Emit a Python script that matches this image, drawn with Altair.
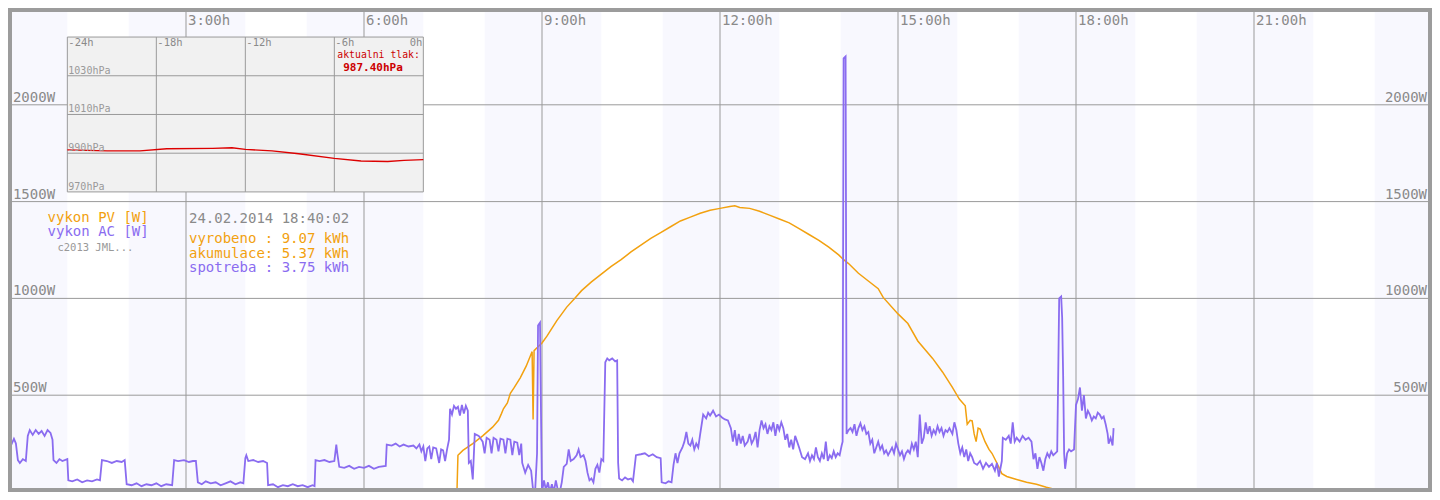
import altair as alt
import pandas as pd

# vykon AC [W] - cas v minutach od pulnoci
ac_time = [0, 3, 6, 8, 10, 12, 15, 18, 20, 22,
           25, 28, 31, 34, 37, 40, 43, 45, 46, 49,
           52, 55, 60, 61, 65, 70, 75, 80, 85, 90,
           93, 95, 100, 105, 110, 115, 118, 120, 125, 130,
           135, 140, 145, 150, 155, 160, 166, 168, 172, 178,
           183, 187, 190, 192, 196, 200, 205, 210, 215, 220,
           225, 230, 235, 238, 240, 241, 243, 248, 253, 258,
           262, 263, 268, 273, 278, 283, 288, 293, 298, 303,
           308, 310, 311, 315, 320, 325, 330, 332, 333, 335,
           340, 345, 350, 355, 360, 365, 370, 375, 382, 383,
           388, 392, 396, 400, 405, 410, 413, 416, 418, 420,
           422, 424, 426, 428, 430, 433, 436, 438, 440, 442,
           444, 446, 447, 449, 451, 453, 455, 457, 459, 461,
           463, 465, 466, 468, 470, 472, 476, 480, 482, 484,
           487, 489, 491, 494, 496, 498, 501, 503, 505, 508,
           510, 512, 515, 517, 519, 520, 523, 526, 529, 531,
           533, 535, 536, 538, 539, 540, 542, 544, 546, 548,
           550, 552, 554, 556, 558, 560, 562, 565, 567, 569,
           572, 575, 577, 579, 582, 584, 586, 588, 590, 592,
           594, 596, 598, 600, 602, 604, 606, 608, 611, 614,
           616, 617, 618, 621, 624, 627, 630, 632, 635, 640,
           644, 648, 652, 656, 660, 661, 665, 668, 671, 673,
           675, 677, 679, 682, 684, 686, 688, 690, 692, 694,
           696, 698, 700, 703, 706, 708, 710, 713, 716, 719,
           722, 725, 728, 731, 733, 735, 737, 739, 741, 743,
           745, 748, 750, 752, 754, 756, 758, 760, 762, 764,
           766, 768, 770, 772, 774, 776, 778, 780, 782, 784,
           786, 788, 790, 792, 794, 796, 798, 800, 803, 806,
           809, 811, 813, 815, 817, 819, 821, 823, 825, 827,
           829, 831, 833, 835, 837, 839, 841, 843, 844, 845,
           847, 848, 850, 852, 854, 856, 858, 860, 862, 864,
           866, 868, 870, 872, 874, 876, 878, 880, 882, 884,
           886, 888, 890, 892, 894, 896, 898, 900, 902, 904,
           906, 908, 910, 912, 914, 916, 918, 920, 922, 924,
           926, 928, 930, 932, 934, 936, 938, 940, 942, 944,
           946, 948, 950, 952, 955, 957, 959, 961, 963, 965,
           967, 969, 971, 973, 975, 977, 980, 983, 986, 989,
           992, 995, 998, 1000, 1002, 1005, 1006, 1009, 1012, 1014,
           1016, 1018, 1020, 1023, 1026, 1029, 1032, 1035, 1037, 1039,
           1041, 1043, 1045, 1047, 1049, 1051, 1053, 1055, 1057, 1059,
           1061, 1063, 1065, 1066, 1067, 1068, 1069, 1071, 1073, 1075,
           1078, 1080, 1082, 1084, 1086, 1088, 1090, 1092, 1094, 1096,
           1098, 1100, 1102, 1104, 1106, 1108, 1110, 1112, 1113, 1115,
           1117, 1118]
ac_watts = [260, 240, 275, 250, 165, 150, 170, 160, 290, 320,
            295, 320, 300, 315, 290, 320, 305, 270, 165, 150,
            170, 160, 170, 60, 55, 65, 50, 60, 55, 65,
            60, 165, 160, 150, 160, 155, 165, 40, 35, 45,
            30, 40, 35, 45, 30, 40, 35, 165, 160, 165,
            155, 160, 160, 50, 40, 55, 45, 50, 35, 45,
            55, 40, 50, 45, 175, 190, 160, 165, 155, 160,
            150, 35, 40, 25, 35, 30, 40, 30, 35, 25,
            35, 30, 165, 160, 165, 155, 160, 245, 200, 130,
            125, 135, 120, 130, 125, 135, 120, 130, 135, 245,
            240, 250, 235, 245, 235, 240, 225, 245, 210, 235,
            160, 225, 235, 170, 230, 225, 150, 220, 215, 160,
            220, 270, 430, 400, 445, 430, 440, 395, 450, 405,
            445, 420, 150, 160, 65, 300, 290, 260, 200, 280,
            270, 200, 280, 270, 210, 275, 270, 200, 275, 270,
            190, 260, 255, 190, 250, 150, 100, 140, 110, 10,
            0, 200, 860, 875, 400, 0, 60, 10, 50, 0,
            40, 0, 60, 10, 0, 50, 130, 145, 220, 160,
            170, 190, 220, 180, 190, 160, 100, 60, 70, 50,
            120, 140, 100, 170, 160, 670, 690, 680, 690, 675,
            680, 150, 70, 60, 75, 65, 70, 55, 190, 195,
            200, 185, 195, 180, 175, 50, 45, 55, 50, 140,
            200, 150, 200, 230, 260, 310, 250, 240, 270, 220,
            250, 230, 300, 400, 380, 410, 395, 420, 390, 400,
            385, 375, 370, 330, 260, 320, 240, 300, 250, 290,
            240, 260, 300, 250, 270, 310, 230, 320, 370, 330,
            350, 300, 340, 320, 360, 290, 350, 320, 360, 330,
            270, 300, 230, 270, 220, 290, 260, 230, 180, 170,
            200, 160, 190, 170, 230, 180, 160, 200, 170, 260,
            160, 190, 175, 210, 180, 200, 190, 240, 260, 2240,
            2250, 300, 320, 330, 310, 350, 290, 330, 355, 320,
            340, 300, 310, 250, 270, 200, 230, 260, 220, 240,
            200, 215, 190, 210, 230, 200, 250, 220, 190, 210,
            170, 200, 215, 200, 250, 220, 260, 180, 400, 250,
            280, 360, 300, 340, 290, 320, 300, 340, 310, 330,
            290, 320, 310, 330, 300, 360, 320, 250, 200, 230,
            180, 220, 160, 200, 180, 150, 140, 160, 120, 150,
            130, 145, 110, 150, 80, 160, 280, 270, 290, 250,
            360, 260, 280, 260, 290, 270, 280, 260, 170, 200,
            120, 180, 150, 110, 170, 200, 180, 210, 190, 200,
            210, 1000, 1010, 900, 600, 200, 120, 200, 220, 210,
            220, 450, 480, 540, 420, 500, 380, 420, 400, 370,
            390, 380, 410, 400, 380, 390, 350, 300, 250, 280,
            240, 330]

# vykon PV [W]
pv_time = [400, 405, 407, 411, 413, 454, 455, 460, 470, 480,
           490, 496, 499, 501, 505, 508, 512, 518, 524, 528,
           530, 531, 532, 536, 540, 545, 550, 555, 560, 565,
           573, 580, 590, 600, 610, 620, 630, 640, 650, 660,
           670, 680, 690, 700, 710, 720, 730, 735, 740, 750,
           760, 770, 780, 790, 800, 810, 820, 830, 840, 845,
           850, 860, 870, 880, 885, 900, 910, 920, 935, 945,
           955, 962, 968, 970, 973, 975, 977, 979, 981, 983,
           988, 992, 995, 1000, 1005, 1010, 1020, 1030, 1040, 1050,
           1060, 1068, 1070]
pv_watts = [0, 15, 0, 15, 0, 0, 190, 215, 250, 290,
            335, 370, 405, 430, 460, 510, 540, 590, 650, 700,
            725, 375, 730, 750, 770, 805, 845, 885, 920, 955,
            1000, 1040, 1085, 1125, 1165, 1200, 1240, 1275, 1310, 1340,
            1370, 1400, 1420, 1440, 1455, 1465, 1475, 1478, 1470, 1465,
            1450, 1430, 1410, 1390, 1360, 1330, 1300, 1265, 1225, 1200,
            1180, 1130, 1090, 1050, 1005, 920, 870, 780, 690, 620,
            540, 480, 445, 350, 370, 367, 300, 260, 330, 325,
            260, 220, 200, 150, 95, 80, 65, 50, 40, 25,
            12, 3, 0]

# tlak za poslednich 24 h
tlak_hod = [-24, -21.3, -19.1, -17.3, -14.2, -12.9, -12, -10.2, -8.4, -6, -4.2, -2.4, -1.3, 0]
tlak_hpa = [991.7, 991.2, 991.2, 992.3, 992.5, 992.8, 992.0, 991.2, 989.7, 987.3, 986.0, 985.7, 986.3, 986.7]

hour_ticks = [180, 360, 540, 720, 900, 1080, 1260]
hour_labels = ['3:00h', '6:00h', '9:00h', '12:00h', '15:00h', '18:00h', '21:00h']
watt_ticks = [500, 1000, 1500, 2000]
watt_labels = ['500W', '1000W', '1500W', '2000W']
band_start = [0, 122, 302, 482, 662, 842, 1022, 1202, 1382]
band_end = [60, 240, 420, 600, 780, 960, 1140, 1320, 1440]

tlak_hod_ticks = [-24, -18, -12, -6]
tlak_hod_labels = ['-24h', '-18h', '-12h', '-6h']
tlak_ticks = [970, 990, 1010, 1030]
tlak_labels = ['970hPa', '990hPa', '1010hPa', '1030hPa']

datum_cas = '24.02.2014 18:40:02'
souhrn = ['vyrobeno : 9.07 kWh', 'akumulace: 5.37 kWh', 'spotreba : 3.75 kWh']
aktualni_tlak = '987.40hPa'

W, H = 1424, 484
SX, SY = W / 1440, H / 500
MONO = 'DejaVu Sans Mono'
GRAY = '#8a8a8a'
GRID = '#9a9a9a'
ORANGE = '#f2a10f'
PURPLE = '#8a6cf0'
LAVENDER = '#f8f8fe'

xs = alt.Scale(domain=[0, 1440], nice=False, zero=False)
ys = alt.Scale(domain=[0, 2500], nice=False)


def text_at(txt, x, y, color, size=14, weight='normal', align='left'):
    return alt.Chart(pd.DataFrame({'t': [txt]})).mark_text(
        font=MONO, fontSize=size, fontWeight=weight, color=color,
        align=align, baseline='alphabetic'
    ).encode(x=alt.value(x * SX), y=alt.value(y * SY), text='t:N')


bands = alt.Chart(pd.DataFrame({'a': band_start, 'b': band_end})).mark_rect(color=LAVENDER).encode(
    x=alt.X('a:Q', scale=xs, axis=None), x2='b:Q',
    y=alt.value(0), y2=alt.value(H)
)

vgrid = alt.Chart(pd.DataFrame({'m': hour_ticks, 'l': hour_labels}))
vrules = vgrid.mark_rule(color=GRID, strokeWidth=1).encode(
    x=alt.X('m:Q', scale=xs, axis=None), y=alt.value(0), y2=alt.value(H)
)
vtext = vgrid.mark_text(font=MONO, fontSize=14, color=GRAY, align='left',
                        baseline='alphabetic', dx=2).encode(
    x=alt.X('m:Q', scale=xs, axis=None), y=alt.value(18 * SY), text='l:N'
)

hgrid = alt.Chart(pd.DataFrame({'w': watt_ticks, 'l': watt_labels}))
hrules = hgrid.mark_rule(color=GRID, strokeWidth=1).encode(
    y=alt.Y('w:Q', scale=ys, axis=None), x=alt.value(0), x2=alt.value(W)
)
htext_l = hgrid.mark_text(font=MONO, fontSize=14, color=GRAY, align='left',
                          baseline='alphabetic', dy=-3).encode(
    y=alt.Y('w:Q', scale=ys, axis=None), x=alt.value(5 * SX), text='l:N'
)
htext_r = hgrid.mark_text(font=MONO, fontSize=14, color=GRAY, align='right',
                          baseline='alphabetic', dy=-3).encode(
    y=alt.Y('w:Q', scale=ys, axis=None), x=alt.value(1435 * SX), text='l:N'
)

pv_line = alt.Chart(pd.DataFrame({'t': pv_time, 'w': pv_watts})).mark_line(
    color=ORANGE, strokeWidth=1.5).encode(
    x=alt.X('t:Q', scale=xs, axis=None), y=alt.Y('w:Q', scale=ys, axis=None)
)
ac_line = alt.Chart(pd.DataFrame({'t': ac_time, 'w': ac_watts})).mark_line(
    color=PURPLE, strokeWidth=1.8).encode(
    x=alt.X('t:Q', scale=xs, axis=None), y=alt.Y('w:Q', scale=ys, axis=None)
)

legenda = alt.layer(
    text_at('vykon PV [W]', 40, 221, ORANGE),
    text_at('vykon AC [W]', 40, 236, PURPLE),
    text_at('c2013 JML...', 50, 251, '#999999', size=10.5),
    text_at(datum_cas, 183, 222, GRAY),
    text_at(souhrn[0], 183, 243, ORANGE),
    text_at(souhrn[1], 183, 258, ORANGE),
    text_at(souhrn[2], 183, 273, PURPLE),
)

ramecek = alt.Chart(pd.DataFrame({'a': [0]})).mark_rect(
    filled=False, stroke='#9c9c9c', strokeWidth=8).encode(
    x=alt.value(0), x2=alt.value(W), y=alt.value(0), y2=alt.value(H)
)

main = alt.layer(bands, vrules, hrules, pv_line, ac_line, vtext, htext_l, htext_r, legenda, ramecek)

# --- vlozeny graf tlaku ---
xs_in = alt.Scale(domain=[-24, 0], range=[60 * SX, 420 * SX], nice=False, zero=False)
ys_in = alt.Scale(domain=[970, 1050], range=[190 * SY, 30 * SY], nice=False, zero=False)

inset_bg = alt.Chart(pd.DataFrame({'h0': [-24], 'h1': [0], 'p0': [970], 'p1': [1050]})).mark_rect(
    fill='#f1f1f1', stroke=GRID, strokeWidth=1).encode(
    x=alt.X('h0:Q', scale=xs_in, axis=None), x2='h1:Q',
    y=alt.Y('p0:Q', scale=ys_in, axis=None), y2='p1:Q'
)
in_v = alt.Chart(pd.DataFrame({'h': tlak_hod_ticks[1:]})).mark_rule(color=GRID).encode(
    x=alt.X('h:Q', scale=xs_in, axis=None), y=alt.value(30 * SY), y2=alt.value(190 * SY)
)
in_h = alt.Chart(pd.DataFrame({'p': tlak_ticks[1:]})).mark_rule(color=GRID).encode(
    y=alt.Y('p:Q', scale=ys_in, axis=None), x=alt.value(60 * SX), x2=alt.value(420 * SX)
)
in_hod_text = alt.Chart(pd.DataFrame({'h': tlak_hod_ticks, 'l': tlak_hod_labels})).mark_text(
    font=MONO, fontSize=10.5, color=GRAY, align='left', baseline='top', dx=1, dy=1).encode(
    x=alt.X('h:Q', scale=xs_in, axis=None), y=alt.value(30 * SY), text='l:N'
)
in_nula = alt.Chart(pd.DataFrame({'h': [0], 'l': ['0h']})).mark_text(
    font=MONO, fontSize=10.5, color=GRAY, align='right', baseline='top', dx=-1, dy=1).encode(
    x=alt.X('h:Q', scale=xs_in, axis=None), y=alt.value(30 * SY), text='l:N'
)
in_p_text = alt.Chart(pd.DataFrame({'p': tlak_ticks, 'l': tlak_labels})).mark_text(
    font=MONO, fontSize=10, color='#999999', align='left', baseline='alphabetic', dy=-2).encode(
    y=alt.Y('p:Q', scale=ys_in, axis=None), x=alt.value(61 * SX), text='l:N'
)
tlak_line = alt.Chart(pd.DataFrame({'h': tlak_hod, 'p': tlak_hpa})).mark_line(
    color='#dd0000', strokeWidth=1.4).encode(
    x=alt.X('h:Q', scale=xs_in, axis=None), y=alt.Y('p:Q', scale=ys_in, axis=None)
)

inset = alt.layer(
    inset_bg, in_v, in_h, tlak_line, in_hod_text, in_nula, in_p_text,
    text_at('aktualni tlak:', 333, 52, '#cc0000', size=9.8),
    text_at(aktualni_tlak, 339, 65, '#cc0000', size=11, weight='bold'),
)

chart = alt.layer(main, inset).resolve_scale(
    x='independent', y='independent'
).properties(
    width=W, height=H, padding=0, autosize=alt.AutoSizeParams(type='none'), background='white'
).configure_view(stroke=None)

chart.save("out.html", embed_options={"renderer": "svg", "actions": False})
